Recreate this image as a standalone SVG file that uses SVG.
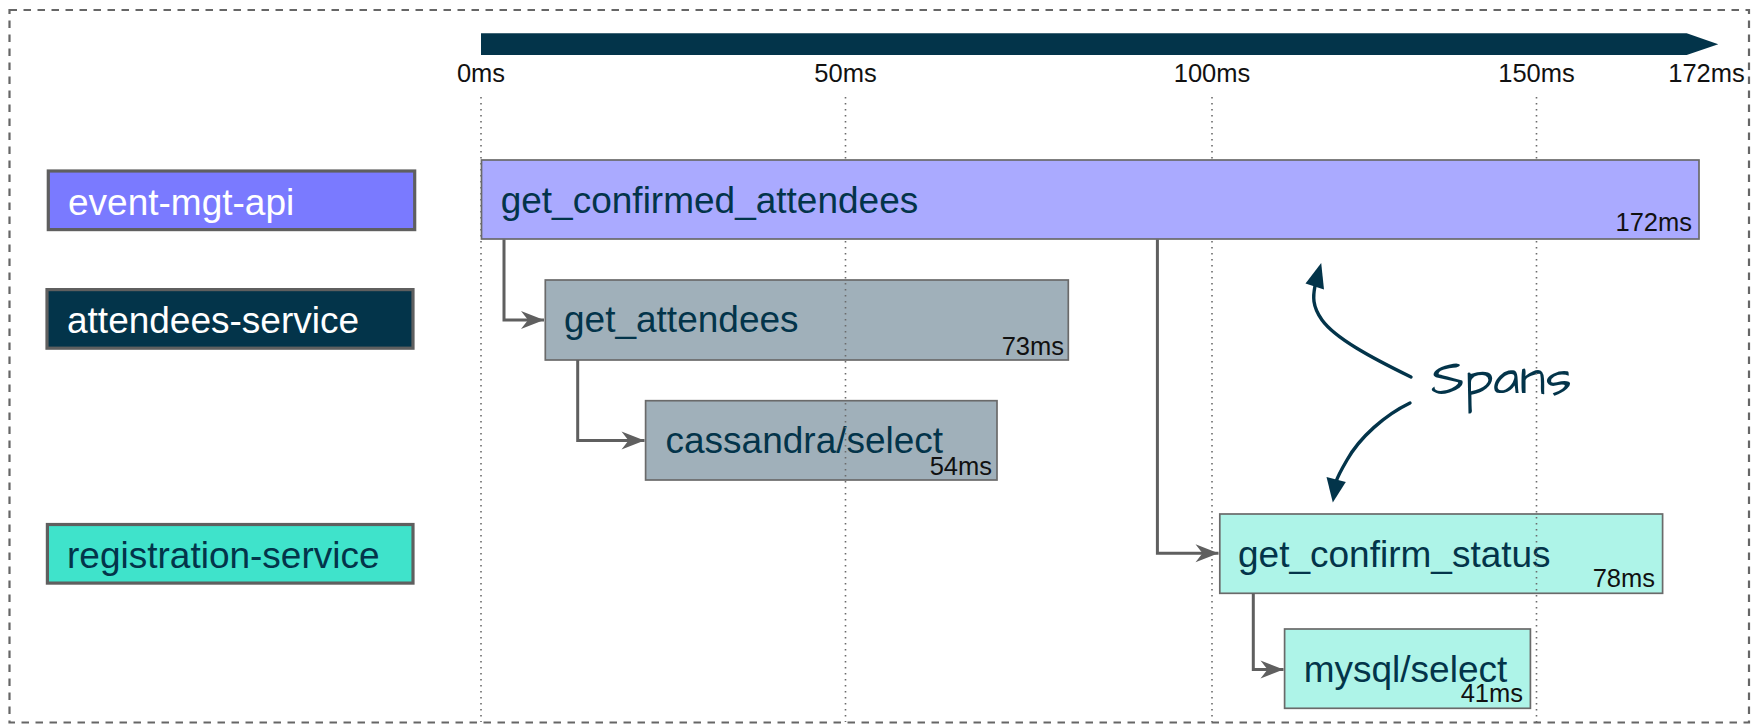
<svg xmlns="http://www.w3.org/2000/svg" width="1752" height="724" viewBox="0 0 1752 724">
  <defs>
    <style>
      .frame { fill: none; stroke: #666666; stroke-width: 2.2; stroke-dasharray: 7.5 6.5; }
      .grid { stroke: #6b6b6b; stroke-width: 1.6; stroke-dasharray: 1.6 4.4; fill: none; }
      .tick { font-family: "Liberation Sans", Arial, sans-serif; font-size: 25.5px; fill: #111111; text-anchor: middle; }
      .svc { stroke: #5f5f5f; stroke-width: 3.2; }
      .svclabel { font-family: "Liberation Sans", Arial, sans-serif; font-size: 37px; }
      .span { stroke: #6a6a6a; stroke-width: 1.7; }
      .spanlabel { font-family: "Liberation Sans", Arial, sans-serif; font-size: 37px; fill: #03344a; }
      .dur { font-family: "Liberation Sans", Arial, sans-serif; font-size: 25.5px; fill: #111111; text-anchor: end; }
      .conn { fill: none; stroke: #5f5f5f; stroke-width: 3; marker-end: url(#arr); }
      .note { fill: none; stroke: #03344a; stroke-width: 3.4; stroke-linecap: round; }
      .notehead { fill: #03344a; }
    </style>
    <marker id="arr" markerUnits="userSpaceOnUse" markerWidth="30" markerHeight="24" viewBox="-24 -12 30 24" refX="0" refY="0" orient="auto" overflow="visible">
      <path d="M-23,-9 L0,0 L-23,9 L-16,0 Z" fill="#5f5f5f"/>
    </marker>
  </defs>

  <rect class="frame" x="9.5" y="10" width="1739.5" height="712.5"/>

  <g id="timeline">
    <polygon points="481,33.3 1686.7,33.3 1718.3,44.2 1686.7,55 481,55" fill="#03344a"/>
    <text class="tick" x="481" y="81.5">0ms</text>
    <text class="tick" x="845.5" y="81.5">50ms</text>
    <text class="tick" x="1212" y="81.5">100ms</text>
    <text class="tick" x="1536.5" y="81.5">150ms</text>
    <text class="tick" x="1706.5" y="81.5">172ms</text>
  </g>

  <g id="svc-event-mgt-api">
    <rect class="svc" x="48.3" y="171" width="366.4" height="58.6" fill="#7a7aff"/>
    <text class="svclabel" x="68" y="215" fill="#ffffff">event-mgt-api</text>
  </g>
  <g id="svc-attendees-service">
    <rect class="svc" x="47" y="289.6" width="366" height="58.6" fill="#03344a"/>
    <text class="svclabel" x="67" y="332.5" fill="#ffffff">attendees-service</text>
  </g>
  <g id="svc-registration-service">
    <rect class="svc" x="47.4" y="524.5" width="365.6" height="58.6" fill="#3fe3cb"/>
    <text class="svclabel" x="67" y="567.5" fill="#03344a">registration-service</text>
  </g>

  <g id="span-get_attendees">
    <rect class="span" x="545.3" y="280" width="523" height="80" fill="#a0b0ba"/>
    <text class="spanlabel" x="564" y="331.5">get_attendees</text>
    <text class="dur" x="1064" y="355">73ms</text>
  </g>
  <g id="span-cassandra-select">
    <rect class="span" x="645.6" y="400.7" width="351.4" height="79.3" fill="#a0b0ba"/>
    <text class="spanlabel" x="665.5" y="453.3">cassandra/select</text>
    <text class="dur" x="992" y="475">54ms</text>
  </g>
  <g id="span-get_confirm_status">
    <rect class="span" x="1219.8" y="514" width="442.8" height="79.3" fill="#aef4e8"/>
    <text class="spanlabel" x="1238" y="566.7">get_confirm_status</text>
    <text class="dur" x="1655" y="586.7">78ms</text>
  </g>
  <g id="span-mysql-select">
    <rect class="span" x="1284.6" y="629" width="245.8" height="79.3" fill="#aef4e8"/>
    <text class="spanlabel" x="1303.7" y="681.7">mysql/select</text>
    <text class="dur" x="1523" y="701.7">41ms</text>
  </g>

  <g id="annotation-spans">
    <path class="note" d="M1411,377 C1370,357 1335,338 1322,320 C1312,306 1313,296 1315,286"/>
    <polygon class="notehead" points="1321.2,263 1305.5,283.5 1324,289.5"/>
    <path class="note" d="M1410,403 C1385,415 1360,437 1347,460 C1340,472 1337,478 1336,482"/>
    <polygon class="notehead" points="1326.5,477 1345.8,482 1332.8,502.5"/>
    <text x="1431" y="394" font-family="'Architects Daughter','Comic Sans MS','DejaVu Sans',sans-serif" font-weight="300" font-size="52px" fill="#03344a">Spans</text>
  </g>

  <g id="gridlines">
    <line class="grid" x1="481" y1="97" x2="481" y2="722"/>
    <line class="grid" x1="845.5" y1="97" x2="845.5" y2="722"/>
    <line class="grid" x1="1212" y1="97" x2="1212" y2="722"/>
    <line class="grid" x1="1536.5" y1="97" x2="1536.5" y2="722"/>
  </g>

  <g id="span-get_confirmed_attendees">
    <rect class="span" x="481.5" y="160" width="1217.5" height="79" fill="#aaaaff"/>
    <text class="spanlabel" x="500.7" y="213.3">get_confirmed_attendees</text>
    <text class="dur" x="1692" y="230.5">172ms</text>
  </g>

  <g id="connectors">
    <path class="conn" d="M504,239.5 V320 H544"/>
    <path class="conn" d="M577.7,360 V440.5 H644.5"/>
    <path class="conn" d="M1157.4,239.5 V553.3 H1218.5"/>
    <path class="conn" d="M1253.3,593.3 V669.5 H1283.5"/>
  </g>
</svg>
